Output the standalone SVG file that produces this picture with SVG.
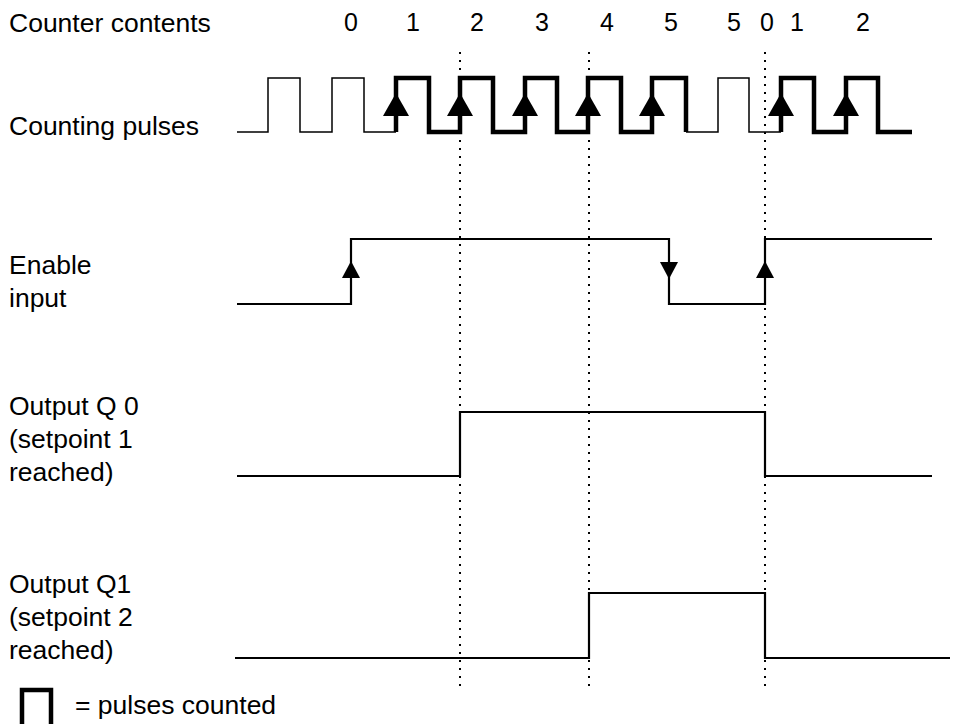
<svg xmlns="http://www.w3.org/2000/svg" width="955" height="724" viewBox="0 0 955 724">
<style>
text{font-family:"Liberation Sans",Arial,sans-serif;font-size:26.5px;fill:#000}
.num{font-size:25px}
.thin{fill:none;stroke:#000;stroke-width:1.5}
.bold{fill:none;stroke:#000;stroke-width:4.5;stroke-linejoin:miter}
.sig{fill:none;stroke:#000;stroke-width:2.2}
.dot{fill:none;stroke:#000;stroke-width:2;stroke-dasharray:2 6}
.arr{fill:#000}
</style>
<rect width="955" height="724" fill="#fff"/>
<g id="labels">
<text x="9" y="32">Counter contents</text>
<text x="9" y="135">Counting pulses</text>
<text x="9" y="274">Enable</text>
<text x="9" y="307">input</text>
<text x="9" y="415">Output Q 0</text>
<text x="9" y="448">(setpoint 1</text>
<text x="9" y="481">reached)</text>
<text x="9" y="593">Output Q1</text>
<text x="9" y="626">(setpoint 2</text>
<text x="9" y="659">reached)</text>
</g>
<g id="counts" text-anchor="middle">
<text class="num" x="351" y="31">0</text>
<text class="num" x="413" y="31">1</text>
<text class="num" x="477" y="31">2</text>
<text class="num" x="542" y="31">3</text>
<text class="num" x="607" y="31">4</text>
<text class="num" x="671" y="31">5</text>
<text class="num" x="734" y="31">5</text>
<text class="num" x="767" y="31">0</text>
<text class="num" x="797" y="31">1</text>
<text class="num" x="863" y="31">2</text>
</g>
<g id="gridlines">
<line class="dot" x1="460" y1="52" x2="460" y2="692"/>
<line class="dot" x1="589" y1="52" x2="589" y2="692"/>
<line class="dot" x1="765" y1="52" x2="765" y2="692"/>
</g>
<g id="counting-pulses">
<path class="thin" d="M237 132 H268 V78 H300 V132 H332 V78 H364 V132 H396"/>
<path class="bold" d="M396 132 V78 H429 V132 H460 V78 H493 V132 H525 V78 H557 V132 H588 V78 H621 V132 H652 V78 H686 V132"/>
<path class="thin" d="M686 132 H718 V78 H749 V132 H781"/>
<path class="bold" d="M781 132 V78 H814 V132 H846 V78 H878 V132 H912"/>
<g class="arr">
<polygon points="396,93 383,116 409,116"/>
<polygon points="460,93 447,116 473,116"/>
<polygon points="525,93 512,116 538,116"/>
<polygon points="588,93 575,116 601,116"/>
<polygon points="652,93 639,116 665,116"/>
<polygon points="781,93 768,116 794,116"/>
<polygon points="846,93 833,116 859,116"/>
</g>
</g>
<g id="enable-input">
<path class="sig" d="M237 304 H351 V239 H669 V304 H765 V239 H932"/>
<g class="arr">
<polygon points="351,261 342,278 360,278"/>
<polygon points="669,279 660,262 678,262"/>
<polygon points="765,261 756,278 774,278"/>
</g>
</g>
<g id="output-q0">
<path class="sig" d="M237 476 H460 V412 H765 V476 H932"/>
</g>
<g id="output-q1">
<path class="sig" d="M235 658 H589 V593 H765 V658 H950"/>
</g>
<g id="legend">
<path class="bold" d="M22 726 V690 H51 V726"/>
<text x="75" y="714">= pulses counted</text>
</g>
</svg>
